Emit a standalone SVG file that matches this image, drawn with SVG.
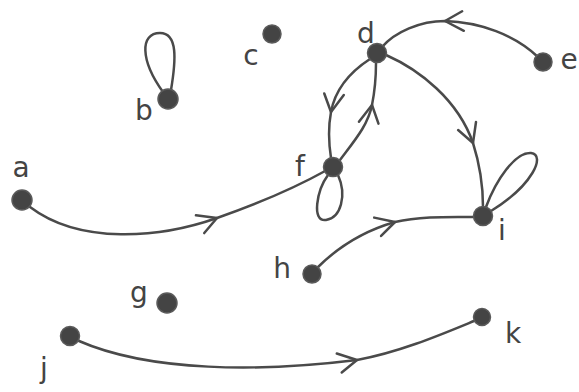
<svg xmlns="http://www.w3.org/2000/svg" width="579" height="392" viewBox="0 0 579 392">
<style>
.edge{fill:none;stroke:#4a4a4a;stroke-width:2.5;stroke-linecap:round;stroke-linejoin:round}
.arr{marker-mid:url(#chev)}
.node{fill:#444;stroke:#5a5a5a;stroke-width:1.5}
.lbl{font-family:"DejaVu Sans",sans-serif;font-size:28px;fill:#444;text-anchor:middle}
</style>
<defs>
<marker id="chev" markerUnits="userSpaceOnUse" orient="auto" refX="0" refY="0" markerWidth="40" markerHeight="40" viewBox="-20 -20 40 40" overflow="visible">
<path d="M-19,-9.5 L0,0 L-17,10" fill="none" stroke="#4a4a4a" stroke-width="2.5" stroke-linecap="round" stroke-linejoin="round"/>
</marker>
</defs>
<rect width="579" height="392" fill="#fff"/>
<g id="edges">
<path id="a-f" class="edge arr" d="M30,207 C80,245 160,238 217,218 C260,203 300,185 327,170"/>
<path id="b-b" class="edge" d="M163,92 C140,60 140,33 160,33 C178,33 176,60 171,90"/>
<path id="e-d" class="edge arr" d="M538,57 C515,35 480,22 445,21 C420,21 395,32 382,47"/>
<path id="d-f" class="edge arr" d="M370,59 C350,72 335,90 331,112 C328,128 329,145 331,158"/>
<path id="f-d" class="edge arr" d="M340,160 C355,140 368,125 372,105 C375,90 376,75 376,63"/>
<path id="d-i" class="edge arr" d="M386,55 C420,70 458,100 473,143 C480,165 483,190 483,207"/>
<path id="f-f" class="edge" d="M328,175 C317,190 311,222 326,220 C341,218 347,195 338,175"/>
<path id="i-i" class="edge" d="M486,207 C496,180 515,152 531,153 C546,155 533,185 491,211"/>
<path id="h-i" class="edge arr" d="M317,268 C335,250 360,232 395,222 C420,216 450,217 474,217"/>
<path id="j-k" class="edge arr" d="M79,341 C150,372 260,372 357,360 C400,352 440,335 474,321"/>
</g>
<g id="node-a"><circle class="node" cx="22" cy="200" r="10"/><text class="lbl" x="21" y="177">a</text></g>
<g id="node-b"><circle class="node" cx="168" cy="99" r="10"/><text class="lbl" x="144" y="120">b</text></g>
<g id="node-c"><circle class="node" cx="272" cy="34" r="9"/><text class="lbl" x="251" y="65">c</text></g>
<g id="node-d"><circle class="node" cx="377" cy="53" r="9.5"/><text class="lbl" x="366" y="43">d</text></g>
<g id="node-e"><circle class="node" cx="543" cy="62" r="9"/><text class="lbl" x="569" y="69">e</text></g>
<g id="node-f"><circle class="node" cx="333" cy="167" r="9.5"/><text class="lbl" x="300" y="176">f</text></g>
<g id="node-g"><circle class="node" cx="167" cy="303" r="10"/><text class="lbl" x="139" y="302">g</text></g>
<g id="node-h"><circle class="node" cx="312" cy="274" r="9"/><text class="lbl" x="282" y="278">h</text></g>
<g id="node-i"><circle class="node" cx="483" cy="216" r="9.5"/><text class="lbl" x="502" y="240">i</text></g>
<g id="node-j"><circle class="node" cx="70" cy="336" r="9.5"/><text class="lbl" x="44" y="378">j</text></g>
<g id="node-k"><circle class="node" cx="482" cy="317" r="8.5"/><text class="lbl" x="513" y="343">k</text></g>
</svg>
